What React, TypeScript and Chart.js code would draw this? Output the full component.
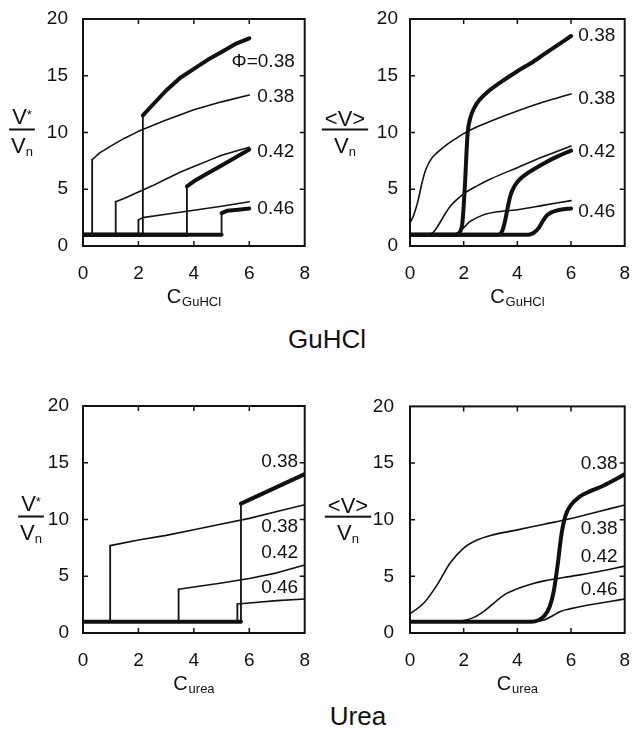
import React, { useEffect, useRef } from "react";
import { Chart, registerables } from "chart.js";

Chart.register(...registerables);

const FONT = "'Liberation Sans', Arial, Helvetica, sans-serif";
const INK = "#111111";

// ---------- axes ----------
const X_MIN = 0;
const X_MAX = 8;
const X_STEP = 2;
const Y_MIN = 0;
const Y_MAX = 20;
const Y_STEP = 5;

// ---------- GuHCl : V*/Vn (step curves) ----------
const gStepThin038X = [0, 0.33, 0.33, 0.6, 1, 1.5, 2, 3, 4, 5, 6];
const gStepThin038Y = [1, 1, 7.6, 8.2, 8.8, 9.5, 10.1, 11.1, 12.0, 12.7, 13.3];
const gStepThick038X = [0, 2.16, 2.16, 2.5, 3, 3.5, 4, 4.5, 5, 5.5, 6];
const gStepThick038Y = [1, 1, 11.5, 12.4, 13.7, 14.8, 15.6, 16.4, 17.1, 17.8, 18.3];
const gStepThin042X = [0, 1.18, 1.18, 1.5, 2, 2.5, 3, 3.5, 4, 4.5, 5, 5.5, 6];
const gStepThin042Y = [1, 1, 3.9, 4.2, 4.75, 5.3, 5.9, 6.5, 7.0, 7.5, 8.0, 8.35, 8.7];
const gStepThick042X = [0, 3.75, 3.75, 4, 4.5, 5, 5.5, 6];
const gStepThick042Y = [1, 1, 5.25, 5.7, 6.4, 7.1, 7.8, 8.5];
const gStepThin046X = [0, 2.0, 2.0, 2.15, 3, 4, 5, 6];
const gStepThin046Y = [1, 1, 2.3, 2.5, 2.8, 3.15, 3.5, 3.9];
const gStepThick046X = [0, 5.0, 5.0, 5.2, 5.6, 6];
const gStepThick046Y = [1, 1, 2.9, 3.1, 3.2, 3.3];

// ---------- GuHCl : <V>/Vn (smooth curves) ----------
const gAvgThin038X = [0, 0.15, 0.3, 0.45, 0.6, 0.8, 1.0, 1.3, 1.6, 2.0, 2.5, 3, 4, 5, 6];
const gAvgThin038Y = [2.0, 2.8, 4.0, 5.6, 6.8, 7.7, 8.2, 8.8, 9.3, 9.9, 10.5, 11.0, 11.9, 12.7, 13.4];
const gAvgThick038X = [0, 1.7, 1.85, 1.95, 2.0, 2.05, 2.1, 2.15, 2.25, 2.4, 2.6, 2.9, 3.3, 4, 4.5, 5, 5.5, 6];
const gAvgThick038Y = [1, 1, 1.2, 2, 3.5, 5.5, 8, 10, 11.3, 12.2, 12.9, 13.6, 14.3, 15.4, 16.1, 16.9, 17.7, 18.5];
const gAvgThin042X = [0, 0.7, 0.9, 1.1, 1.3, 1.5, 1.7, 2.0, 2.5, 3, 4, 5, 6];
const gAvgThin042Y = [1, 1, 1.3, 2.0, 2.8, 3.5, 4.0, 4.6, 5.3, 5.9, 6.9, 7.9, 8.8];
const gAvgThick042X = [0, 3.3, 3.45, 3.55, 3.65, 3.75, 3.9, 4.1, 4.5, 5, 5.5, 6];
const gAvgThick042Y = [1, 1, 1.4, 2.3, 3.5, 4.5, 5.3, 5.9, 6.6, 7.3, 7.9, 8.4];
const gAvgThin046X = [0, 1.6, 1.8, 2.0, 2.2, 2.5, 2.8, 3.2, 4, 5, 6];
const gAvgThin046Y = [1, 1, 1.2, 1.6, 2.1, 2.5, 2.8, 3.0, 3.2, 3.6, 4.0];
const gAvgThick046X = [0, 4.4, 4.6, 4.8, 4.95, 5.1, 5.3, 5.6, 6];
const gAvgThick046Y = [1, 1, 1.15, 1.6, 2.2, 2.7, 3.0, 3.2, 3.3];

// ---------- Urea : V*/Vn (step curves) ----------
const uStepThick038X = [0, 5.7, 5.7, 8];
const uStepThick038Y = [1, 1, 11.4, 14.0];
const uStepThin038X = [0, 0.98, 0.98, 2, 3, 4, 5, 6, 7, 8];
const uStepThin038Y = [1, 1, 7.7, 8.2, 8.6, 9.1, 9.6, 10.1, 10.7, 11.3];
const uStepThin042X = [0, 3.45, 3.45, 4, 5, 6, 7, 8];
const uStepThin042Y = [1, 1, 3.85, 4.05, 4.4, 4.8, 5.3, 6.0];
const uStepThin046X = [0, 5.57, 5.57, 6, 7, 8];
const uStepThin046Y = [1, 1, 2.55, 2.65, 2.85, 3.0];

// ---------- Urea : <V>/Vn (smooth curves) ----------
const uAvgThin038X = [0, 0.5, 1.0, 1.5, 2.0, 2.5, 3, 4, 5, 6, 7, 8];
const uAvgThin038Y = [1.7, 2.6, 4.2, 6.2, 7.5, 8.2, 8.6, 9.1, 9.6, 10.1, 10.7, 11.3];
const uAvgThick038X = [0, 4.5, 4.8, 5.0, 5.2, 5.35, 5.5, 5.65, 5.8, 6.0, 6.3, 6.7, 7.2, 8];
const uAvgThick038Y = [1, 1, 1.15, 1.5, 2.3, 3.6, 6.0, 8.8, 10.4, 11.3, 12.0, 12.5, 13.0, 14.0];
const uAvgThin042X = [0, 1.5, 2.0, 2.4, 2.8, 3.2, 3.6, 4.0, 4.5, 5, 6, 7, 8];
const uAvgThin042Y = [1, 1, 1.1, 1.4, 2.0, 2.8, 3.5, 3.9, 4.3, 4.6, 5.0, 5.4, 5.9];
const uAvgThin046X = [0, 4.6, 5.0, 5.3, 5.6, 6, 6.5, 7, 7.5, 8];
const uAvgThin046Y = [1, 1, 1.15, 1.5, 1.9, 2.15, 2.4, 2.6, 2.8, 3.0];

// ---------- curve labels ----------
const gStepLabels = ["\u03A6=0.38", "0.38", "0.42", "0.46"];
const gStepLabelX = [5.36, 6.29, 6.29, 6.29];
const gStepLabelY = [16.2, 13.15, 8.3, 3.3];
const gAvgLabels = ["0.38", "0.38", "0.42", "0.46"];
const gAvgLabelX = [6.27, 6.27, 6.27, 6.27];
const gAvgLabelY = [18.5, 13.0, 8.3, 3.0];
const uStepLabels = ["0.38", "0.38", "0.42", "0.46"];
const uStepLabelX = [6.43, 6.43, 6.43, 6.43];
const uStepLabelY = [15.1, 9.35, 7.05, 3.95];
const uAvgLabels = ["0.38", "0.38", "0.42", "0.46"];
const uAvgLabelX = [6.36, 6.36, 6.36, 6.36];
const uAvgLabelY = [14.95, 9.2, 6.7, 3.8];

type Curve = { xs: number[]; ys: number[]; thick: boolean };

type PanelCfg = {
  left: number;
  top: number;
  width: number;
  yAxisWidth: number;
  padRight: number;
  yTickPad: number;
  curves: Curve[];
  smooth: boolean;
  labels: string[];
  labelX: number[];
  labelY: number[];
  numerator: "star" | "avg";
  xSub: string;
  fracX: number;
};

const CANVAS_H = 310;
const PAD_TOP = 19;
const X_AXIS_H = 44;
const PAD_BOTTOM = 20;

function Panel(props: PanelCfg) {
  const ref = useRef<HTMLCanvasElement | null>(null);
  useEffect(() => {
    const canvas = ref.current;
    if (!canvas) return;
    const p = props;
    const decor = {
      id: "decor",
      afterDatasetsDraw(chart: any) {
        const { ctx, chartArea: a, scales } = chart;
        const xs = scales.x;
        const ys = scales.y;
        ctx.save();
        // frame
        ctx.strokeStyle = INK;
        ctx.lineWidth = 2;
        ctx.strokeRect(a.left, a.top, a.right - a.left, a.bottom - a.top);
        // inward ticks on all four sides
        ctx.lineWidth = 1.5;
        ctx.beginPath();
        xs.ticks.forEach((t: any) => {
          if (t.value > X_MIN && t.value < X_MAX) {
            const px = xs.getPixelForValue(t.value);
            ctx.moveTo(px, a.bottom);
            ctx.lineTo(px, a.bottom - 5);
            ctx.moveTo(px, a.top);
            ctx.lineTo(px, a.top + 5);
          }
        });
        ys.ticks.forEach((t: any) => {
          if (t.value > Y_MIN && t.value < Y_MAX) {
            const py = ys.getPixelForValue(t.value);
            ctx.moveTo(a.left, py);
            ctx.lineTo(a.left + 5, py);
            ctx.moveTo(a.right, py);
            ctx.lineTo(a.right - 5, py);
          }
        });
        ctx.stroke();

        // curve labels
        ctx.fillStyle = INK;
        ctx.font = `19px ${FONT}`;
        ctx.textAlign = "left";
        ctx.textBaseline = "middle";
        p.labels.forEach((s, i) => {
          ctx.fillText(s, xs.getPixelForValue(p.labelX[i]), ys.getPixelForValue(p.labelY[i]));
        });

        // x-axis title: C with subscript
        ctx.textBaseline = "alphabetic";
        const cx = (a.left + a.right) / 2;
        const by = a.bottom + 57;
        ctx.font = `20px ${FONT}`;
        const wC = ctx.measureText("C").width;
        ctx.font = `13px ${FONT}`;
        const wS = ctx.measureText(p.xSub).width;
        const x0 = cx - (wC + wS + 1) / 2;
        ctx.font = `20px ${FONT}`;
        ctx.fillText("C", x0, by);
        ctx.font = `13px ${FONT}`;
        ctx.fillText(p.xSub, x0 + wC + 1, by + 3);

        // y-axis title: fraction
        const fx = p.fracX;
        const ly = ys.getPixelForValue(10) - 3;
        ctx.textAlign = "left";
        let numW = 0;
        if (p.numerator === "star") {
          ctx.font = `22px ${FONT}`;
          const wV = ctx.measureText("V").width;
          ctx.font = `13px ${FONT}`;
          const wSt = ctx.measureText("*").width;
          numW = wV + wSt;
          const nx = fx - numW / 2;
          ctx.font = `22px ${FONT}`;
          ctx.fillText("V", nx, ly - 6);
          ctx.font = `13px ${FONT}`;
          ctx.fillText("*", nx + wV, ly - 11);
        } else {
          ctx.font = `22px ${FONT}`;
          numW = ctx.measureText("<V>").width;
          ctx.fillText("<V>", fx - numW / 2, ly - 4);
        }
        const lineW = numW + 6;
        ctx.fillRect(fx - lineW / 2, ly - 1, lineW, 2);
        ctx.font = `22px ${FONT}`;
        const wV2 = ctx.measureText("V").width;
        ctx.font = `13px ${FONT}`;
        const wn = ctx.measureText("n").width;
        const dx = fx - (wV2 + wn) / 2;
        ctx.font = `22px ${FONT}`;
        ctx.fillText("V", dx, ly + 23);
        ctx.font = `13px ${FONT}`;
        ctx.fillText("n", dx + wV2, ly + 26);
        ctx.restore();
      },
    };

    const datasets = p.curves.map((c) => ({
      data: c.xs.map((x, i) => ({ x, y: c.ys[i] })),
      showLine: true,
      borderColor: INK,
      backgroundColor: INK,
      borderWidth: c.thick ? 4 : 1.6,
      pointRadius: 0,
      pointHoverRadius: 0,
      tension: 0,
      cubicInterpolationMode: p.smooth ? "monotone" : "default",
      borderJoinStyle: "round",
      borderCapStyle: "round",
      segment: p.smooth
        ? undefined
        : {
            borderWidth: (ctx: any) =>
              ctx.p0.parsed.x === ctx.p1.parsed.x ? 1.8 : undefined,
          },
    }));

    const chart = new Chart(canvas, {
      type: "scatter",
      data: { datasets } as any,
      options: {
        animation: false,
        responsive: false,
        devicePixelRatio: 1,
        events: [],
        layout: {
          autoPadding: false,
          padding: { left: 0, right: p.padRight, top: PAD_TOP, bottom: PAD_BOTTOM },
        },
        plugins: { legend: { display: false }, tooltip: { enabled: false } },
        scales: {
          x: {
            type: "linear",
            min: X_MIN,
            max: X_MAX,
            grid: { display: false },
            border: { display: false },
            ticks: {
              stepSize: X_STEP,
              color: INK,
              font: { family: FONT, size: 19 },
              padding: 8,
              maxRotation: 0,
              autoSkip: false,
            },
            afterFit: (s: any) => {
              s.height = X_AXIS_H;
            },
          },
          y: {
            type: "linear",
            min: Y_MIN,
            max: Y_MAX,
            grid: { display: false },
            border: { display: false },
            ticks: {
              stepSize: Y_STEP,
              color: INK,
              font: { family: FONT, size: 19 },
              padding: p.yTickPad,
            },
            afterFit: (s: any) => {
              s.width = p.yAxisWidth;
            },
          },
        },
      } as any,
      plugins: [decor],
    });
    return () => chart.destroy();
  }, []);
  return (
    <canvas
      ref={ref}
      width={props.width}
      height={CANVAS_H}
      style={{ position: "absolute", left: props.left, top: props.top, width: props.width, height: CANVAS_H }}
    />
  );
}

const gStepCurves: Curve[] = [
  { xs: gStepThin038X, ys: gStepThin038Y, thick: false },
  { xs: gStepThin042X, ys: gStepThin042Y, thick: false },
  { xs: gStepThin046X, ys: gStepThin046Y, thick: false },
  { xs: gStepThick038X, ys: gStepThick038Y, thick: true },
  { xs: gStepThick042X, ys: gStepThick042Y, thick: true },
  { xs: gStepThick046X, ys: gStepThick046Y, thick: true },
];
const gAvgCurves: Curve[] = [
  { xs: gAvgThin038X, ys: gAvgThin038Y, thick: false },
  { xs: gAvgThin042X, ys: gAvgThin042Y, thick: false },
  { xs: gAvgThin046X, ys: gAvgThin046Y, thick: false },
  { xs: gAvgThick038X, ys: gAvgThick038Y, thick: true },
  { xs: gAvgThick042X, ys: gAvgThick042Y, thick: true },
  { xs: gAvgThick046X, ys: gAvgThick046Y, thick: true },
];
const uStepCurves: Curve[] = [
  { xs: uStepThin038X, ys: uStepThin038Y, thick: false },
  { xs: uStepThin042X, ys: uStepThin042Y, thick: false },
  { xs: uStepThin046X, ys: uStepThin046Y, thick: false },
  { xs: uStepThick038X, ys: uStepThick038Y, thick: true },
];
const uAvgCurves: Curve[] = [
  { xs: uAvgThin038X, ys: uAvgThin038Y, thick: false },
  { xs: uAvgThin042X, ys: uAvgThin042Y, thick: false },
  { xs: uAvgThin046X, ys: uAvgThin046Y, thick: false },
  { xs: uAvgThick038X, ys: uAvgThick038Y, thick: true },
];

const titleStyle: React.CSSProperties = {
  position: "absolute",
  transform: "translateX(-50%)",
  fontFamily: FONT,
  fontSize: 26,
  lineHeight: "26px",
  color: INK,
  whiteSpace: "nowrap",
};

export default function App() {
  return (
    <div style={{ position: "absolute", left: 0, top: 0, width: 638, height: 730, background: "#fff" }}>
      <Panel
        left={0}
        top={0}
        width={318}
        yAxisWidth={83}
        padRight={11}
        yTickPad={7}
        curves={gStepCurves}
        smooth={false}
        labels={gStepLabels}
        labelX={gStepLabelX}
        labelY={gStepLabelY}
        numerator="star"
        xSub="GuHCl"
        fracX={22}
      />
      <Panel
        left={318}
        top={0}
        width={320}
        yAxisWidth={92}
        padRight={4}
        yTickPad={4}
        curves={gAvgCurves}
        smooth={true}
        labels={gAvgLabels}
        labelX={gAvgLabelX}
        labelY={gAvgLabelY}
        numerator="avg"
        xSub="GuHCl"
        fracX={27}
      />
      <div style={{ ...titleStyle, left: 327, top: 339 - 13 }}>GuHCl</div>
      <Panel
        left={0}
        top={387}
        width={318}
        yAxisWidth={83}
        padRight={11}
        yTickPad={6}
        curves={uStepCurves}
        smooth={false}
        labels={uStepLabels}
        labelX={uStepLabelX}
        labelY={uStepLabelY}
        numerator="star"
        xSub="urea"
        fracX={31}
      />
      <Panel
        left={318}
        top={387}
        width={320}
        yAxisWidth={92}
        padRight={4}
        yTickPad={8}
        curves={uAvgCurves}
        smooth={true}
        labels={uAvgLabels}
        labelX={uAvgLabelX}
        labelY={uAvgLabelY}
        numerator="avg"
        xSub="urea"
        fracX={30}
      />
      <div style={{ ...titleStyle, left: 358, top: 716 - 13 }}>Urea</div>
    </div>
  );
}
